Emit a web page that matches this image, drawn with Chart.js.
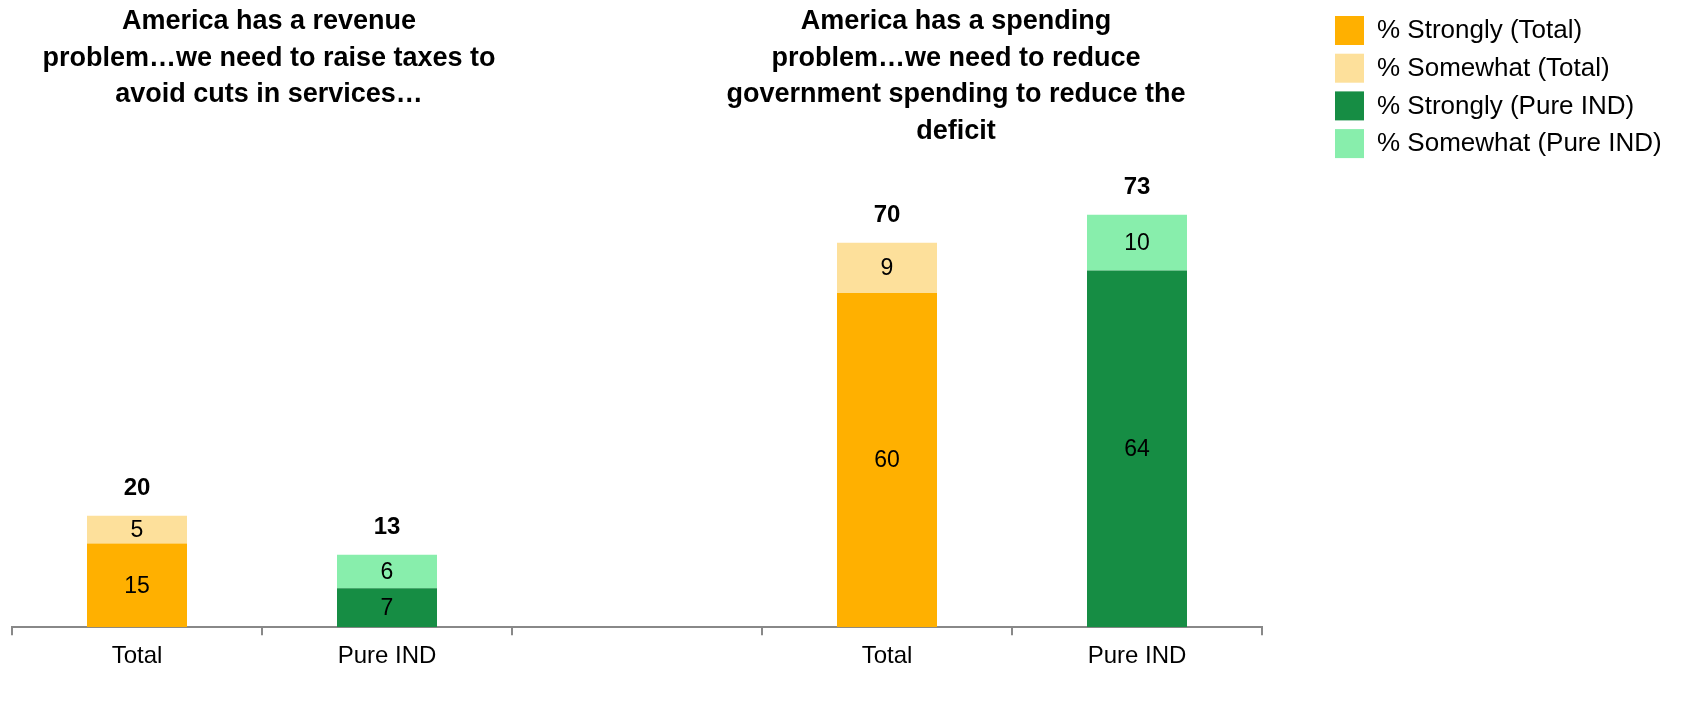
<!DOCTYPE html>
<html>
<head>
<meta charset="utf-8">
<script src="https://cdn.jsdelivr.net/npm/chart.js@4.4.1/dist/chart.umd.min.js"></script>
<style>
  html, body { margin: 0; padding: 0; background: #fff; }
  #wrap { width: 1682px; height: 714px; position: relative; }
</style>
</head>
<body>
<div id="wrap"><canvas id="c" width="1682" height="714"></canvas></div>
<script>
const categories = ['Total', 'Pure IND', '', 'Total', 'Pure IND'];
const stronglyTotal = [15, null, null, 60, null];
const somewhatTotal = [5, null, null, 9, null];
const stronglyPureInd = [null, 7, null, null, 64];
const somewhatPureInd = [null, 6, null, null, 10];
const totals = [20, 13, null, 70, 73];
const seriesNames = ['% Strongly (Total)', '% Somewhat (Total)', '% Strongly (Pure IND)', '% Somewhat (Pure IND)'];
const seriesColors = ['#FFB000', '#FDE09B', '#168D44', '#88EEAC'];
const groupTitles = [
  { lines: ['America has a revenue', 'problem…we need to raise taxes to', 'avoid cuts in services…'], x: 269 },
  { lines: ['America has a spending', 'problem…we need to reduce', 'government spending to reduce the', 'deficit'], x: 956 }
];

const FONT = '"Liberation Sans", Arial, sans-serif';

const labelPlugin = {
  id: 'labels',
  afterDatasetsDraw(chart) {
    const ctx = chart.ctx;
    ctx.save();
    ctx.textAlign = 'center';
    ctx.textBaseline = 'middle';
    ctx.fillStyle = '#000';
    ctx.font = '23px ' + FONT;
    chart.data.datasets.forEach((ds, di) => {
      const meta = chart.getDatasetMeta(di);
      meta.data.forEach((el, i) => {
        const v = ds.data[i];
        if (v === null || v === undefined) return;
        ctx.fillText(String(v), el.x, (el.y + el.base) / 2 + 1);
      });
    });
    // totals
    ctx.font = 'bold 24px ' + FONT;
    const yScale = chart.scales.y;
    const xScale = chart.scales.x;
    totals.forEach((t, i) => {
      if (t === null) return;
      let top = 0;
      chart.data.datasets.forEach(ds => { const v = ds.data[i]; if (v !== null && v !== undefined) top += v; });
      ctx.fillText(String(t), xScale.getPixelForValue(i), yScale.getPixelForValue(top) - 27);
    });
    ctx.restore();
  },
  afterDraw(chart) {
    const ctx = chart.ctx;
    ctx.save();
    // titles
    ctx.textAlign = 'center';
    ctx.textBaseline = 'middle';
    ctx.fillStyle = '#000';
    ctx.font = 'bold 27px ' + FONT;
    groupTitles.forEach(t => {
      t.lines.forEach((ln, k) => ctx.fillText(ln, t.x, 22 + k * 36.5));
    });
    // legend
    ctx.textAlign = 'left';
    ctx.font = '26px ' + FONT;
    seriesNames.forEach((n, k) => {
      const y = 16 + k * 37.7;
      ctx.fillStyle = seriesColors[k];
      ctx.fillRect(1335, y, 29, 29);
      ctx.fillStyle = '#000';
      ctx.fillText(n, 1377, y + 15);
    });
    ctx.restore();
  }
};

new Chart(document.getElementById('c'), {
  type: 'bar',
  data: {
    labels: categories,
    datasets: [
      { label: seriesNames[0], data: stronglyTotal, backgroundColor: seriesColors[0] },
      { label: seriesNames[1], data: somewhatTotal, backgroundColor: seriesColors[1] },
      { label: seriesNames[2], data: stronglyPureInd, backgroundColor: seriesColors[2] },
      { label: seriesNames[3], data: somewhatPureInd, backgroundColor: seriesColors[3] }
    ]
  },
  options: {
    responsive: false,
    animation: false,
    devicePixelRatio: 1,
    layout: { padding: { left: 12, right: 420, top: 70, bottom: 36 } },
    datasets: { bar: { barPercentage: 0.4, categoryPercentage: 1, skipNull: false } },
    plugins: { legend: { display: false }, tooltip: { enabled: false }, title: { display: false } },
    scales: {
      x: {
        stacked: true,
        grid: { offset: true, drawOnChartArea: false, drawTicks: true, tickLength: 8, color: '#888', lineWidth: 2 },
        border: { display: true, color: '#888', width: 2 },
        ticks: { color: '#000', font: { family: FONT, size: 24 }, padding: 7, maxRotation: 0, autoSkip: false }
      },
      y: {
        stacked: true,
        display: false,
        min: 0,
        max: 100
      }
    }
  },
  plugins: [labelPlugin]
});
</script>
</body>
</html>
